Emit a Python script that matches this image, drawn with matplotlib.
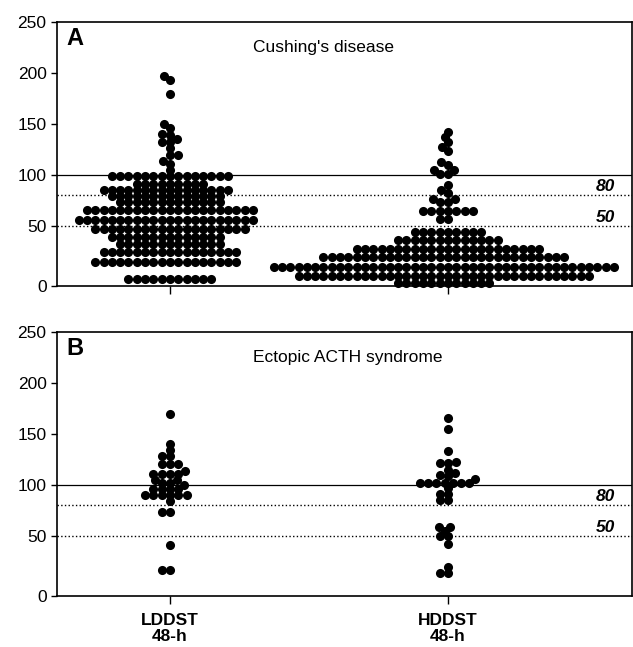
import numpy as np
import matplotlib
matplotlib.use('Agg')
import matplotlib.pyplot as plt
import matplotlib.transforms as mtransforms

plt.rcParams['font.family'] = ['Liberation Sans', 'DejaVu Sans']

groups = ['LDDST\n48-h', 'HDDST\n48-h']

# A: Cushing's disease (level, number of dots)
cd_ld_level = [197, 193, 179, 150, 146, 140, 139, 135, 132, 126, 119, 114, 111, 105,
               99, 91, 85, 79, 73, 65, 56, 47, 41, 35, 28, 20, 6]
cd_ld_count = [1, 1, 1, 1, 1, 1, 1, 1, 2, 1, 2, 1, 1, 1,
               15, 9, 16, 14, 13, 21, 22, 19, 14, 13, 17, 18, 11]
cd_hd_level = [142, 137, 132, 127, 123, 113, 110, 105, 101, 90, 85, 82, 76, 73,
               64, 57, 45, 38, 31, 24, 16, 8.5, 2.5]
cd_hd_count = [1, 1, 1, 1, 1, 1, 1, 2, 2, 1, 1, 1, 2, 2,
               7, 2, 9, 13, 23, 30, 42, 36, 12]

# B: ectopic ACTH syndrome
ea_ld = [170, 140, 134, 128, 128, 120, 120, 120, 114, 111, 111, 111, 111, 105, 105,
         102, 102, 100, 96, 96, 96, 96, 90, 90, 90, 90, 90, 90, 84, 73, 73, 42, 22, 22]
ea_hd = [166, 155, 133, 122, 121, 121, 115, 112, 110, 109, 106, 102, 102, 102, 102,
         102, 102, 102, 97, 91, 91, 85, 85, 59, 59, 55, 50, 50, 43, 24, 19, 19]

cd_ld = np.repeat(cd_ld_level, cd_ld_count)
cd_hd = np.repeat(cd_hd_level, cd_hd_count)

# y axis: the 0-50 stretch is drawn taller than the rest
K = 1.183


def fwd(y):
    y = np.asarray(y, float)
    return np.where(y < 50, 50 + (y - 50) * K, y)


def inv(u):
    u = np.asarray(u, float)
    return np.where(u < 50, 50 + (u - 50) / K, u)


D = 8.3   # px between dot centres in a row
S = 1.49  # rows closer than D/S px start to push each other sideways


def swarm_x(ax, xc, vals):
    vals = np.asarray(vals, float)
    ypx = ax.transData.transform(np.column_stack([np.full(len(vals), xc), vals]))[:, 1]
    order = np.argsort(ypx, kind='stable')
    off = np.zeros(len(vals))
    placed = []
    for i in order:
        y = ypx[i]
        near = [(px, py) for px, py in placed if abs(py - y) * S < D]
        cands = [0.0]
        for px, py in near:
            dx = np.sqrt(D ** 2 - ((py - y) * S) ** 2)
            cands += [px - dx, px + dx]
        cands.sort(key=abs)
        for c in cands:
            if all((c - px) ** 2 + ((y - py) * S) ** 2 >= D ** 2 - 1e-6 for px, py in near):
                break
        off[i] = c
        placed.append((c, y))
    unit = ax.transData.transform([(1, 0)])[0, 0] - ax.transData.transform([(0, 0)])[0, 0]
    return xc + off / unit


fig = plt.figure(figsize=(6.33, 6.47), dpi=100)
axA = fig.add_axes([0.0900, 0.5580, 0.9084, 0.4080])
axB = fig.add_axes([0.0900, 0.0788, 0.9084, 0.4080])

panels = [(axA, 'A', "Cushing's disease", [cd_ld, cd_hd], False),
          (axB, 'B', 'Ectopic ACTH syndrome', [ea_ld, ea_hd], True)]

for ax, letter, title, data, show_x in panels:
    ax.set_yscale('function', functions=(fwd, inv))
    ax.set_ylim(0, 250)
    ax.set_xlim(-0.4065, 1.662)
    ax.set_yticks([0, 50, 100, 150, 200, 250])
    ax.set_yticklabels(['0', '50', '100', '150', '200', '250'])
    ax.yaxis.set_minor_locator(matplotlib.ticker.NullLocator())
    ax.set_xticks([0, 1])
    if show_x:
        ax.set_xticklabels(groups, fontweight='bold', fontsize=12.5, linespacing=1.05)
    else:
        ax.set_xticklabels(['', ''])
    ax.tick_params(axis='y', length=4.5, width=1.0, pad=3, labelsize=12.5)
    ax.tick_params(axis='x', length=5.5, width=1.0, pad=7)
    for sp in ax.spines.values():
        sp.set_linewidth(1.2)

    ax.axhline(100, color='k', lw=0.9, zorder=1)
    ax.axhline(80, color='k', lw=1.0, ls=':', zorder=1)
    ax.axhline(50, color='k', lw=1.0, ls=':', zorder=1)
    trans = mtransforms.offset_copy(
        mtransforms.blended_transform_factory(ax.transAxes, ax.transData),
        fig=fig, x=0, y=3, units='points')
    for ref in [80, 50]:
        ax.text(0.97, ref, str(ref), transform=trans, ha='right', va='baseline',
                fontsize=12.5, fontweight='bold', fontstyle='italic')

    for i, vals in enumerate(data):
        xs = swarm_x(ax, i, vals)
        ax.scatter(xs, vals, s=43, color='black', linewidths=0, zorder=3, clip_on=False)

    ax.text(0.016, 0.98, letter, transform=ax.transAxes, ha='left', va='top',
            fontsize=17, fontweight='bold')
    ax.text(0.341, 0.8875, title, transform=ax.transAxes, ha='left', va='baseline',
            fontsize=12.5)

fig.savefig('out.png', dpi=100)
